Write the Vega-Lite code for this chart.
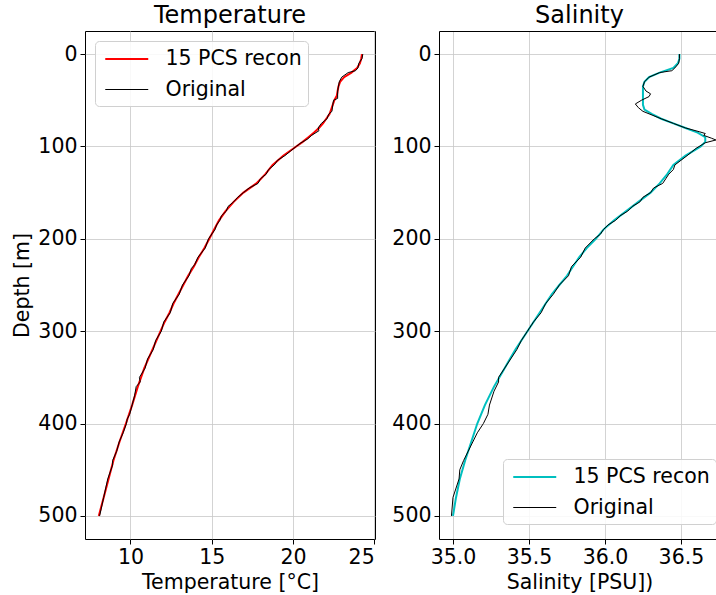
{
  "$schema": "https://vega.github.io/schema/vega-lite/v6.json",
  "padding": {"left": 12, "top": 3, "right": 0, "bottom": 0},
  "background": "white",
  "spacing": 15,
  "resolve": {
    "scale": {"color": "independent", "strokeWidth": "independent"},
    "legend": {"color": "independent", "strokeWidth": "independent"}
  },
  "config": {
    "font": "DejaVu Sans",
    "view": {"stroke": "black", "strokeWidth": 1},
    "axis": {
      "labelFontSize": 20.5, "titleFontSize": 20.5, "titleFontWeight": "normal",
      "labelColor": "black", "titleColor": "black", "tickColor": "black",
      "tickSize": 5, "labelPadding": 3, "gridColor": "#c8c8c8", "gridWidth": 0.8,
      "domainColor": "black", "titlePadding": 5
    },
    "title": {"fontSize": 24, "fontWeight": "normal", "color": "black", "offset": 3},
    "legend": {
      "symbolType": "M-2,0H2", "symbolSize": 462, "symbolOffset": 13.75, "labelFontSize": 20.5, "labelColor": "black",
      "padding": 6, "rowPadding": 8, "strokeColor": "#d0d0d0", "fillColor": "rgba(255,255,255,0.85)",
      "cornerRadius": 4, "labelOffset": 26.75, "offset": 10
    }
  },
  "datasets": {
    "temp": [
      {"series": "15 PCS recon", "depth": 0, "value": 24.25},
      {"series": "15 PCS recon", "depth": 5, "value": 24.2},
      {"series": "15 PCS recon", "depth": 10, "value": 24.12},
      {"series": "15 PCS recon", "depth": 15, "value": 23.95},
      {"series": "15 PCS recon", "depth": 20, "value": 23.6},
      {"series": "15 PCS recon", "depth": 25, "value": 23.15},
      {"series": "15 PCS recon", "depth": 30, "value": 22.9},
      {"series": "15 PCS recon", "depth": 35, "value": 22.8},
      {"series": "15 PCS recon", "depth": 40, "value": 22.75},
      {"series": "15 PCS recon", "depth": 45, "value": 22.7},
      {"series": "15 PCS recon", "depth": 50, "value": 22.55},
      {"series": "15 PCS recon", "depth": 55, "value": 22.45},
      {"series": "15 PCS recon", "depth": 60, "value": 22.35},
      {"series": "15 PCS recon", "depth": 65, "value": 22.25},
      {"series": "15 PCS recon", "depth": 70, "value": 22.05},
      {"series": "15 PCS recon", "depth": 75, "value": 21.85},
      {"series": "15 PCS recon", "depth": 80, "value": 21.6},
      {"series": "15 PCS recon", "depth": 85, "value": 21.3},
      {"series": "15 PCS recon", "depth": 90, "value": 20.95},
      {"series": "15 PCS recon", "depth": 95, "value": 20.6},
      {"series": "15 PCS recon", "depth": 100, "value": 20.2},
      {"series": "15 PCS recon", "depth": 110, "value": 19.4},
      {"series": "15 PCS recon", "depth": 120, "value": 18.75},
      {"series": "15 PCS recon", "depth": 130, "value": 18.3},
      {"series": "15 PCS recon", "depth": 140, "value": 17.75},
      {"series": "15 PCS recon", "depth": 150, "value": 16.95},
      {"series": "15 PCS recon", "depth": 160, "value": 16.35},
      {"series": "15 PCS recon", "depth": 170, "value": 15.85},
      {"series": "15 PCS recon", "depth": 180, "value": 15.45},
      {"series": "15 PCS recon", "depth": 190, "value": 15.15},
      {"series": "15 PCS recon", "depth": 200, "value": 14.85},
      {"series": "15 PCS recon", "depth": 210, "value": 14.55},
      {"series": "15 PCS recon", "depth": 220, "value": 14.2},
      {"series": "15 PCS recon", "depth": 230, "value": 13.9},
      {"series": "15 PCS recon", "depth": 240, "value": 13.55},
      {"series": "15 PCS recon", "depth": 250, "value": 13.25},
      {"series": "15 PCS recon", "depth": 260, "value": 12.95},
      {"series": "15 PCS recon", "depth": 270, "value": 12.65},
      {"series": "15 PCS recon", "depth": 280, "value": 12.4},
      {"series": "15 PCS recon", "depth": 290, "value": 12.1},
      {"series": "15 PCS recon", "depth": 300, "value": 11.85},
      {"series": "15 PCS recon", "depth": 320, "value": 11.35},
      {"series": "15 PCS recon", "depth": 340, "value": 10.85},
      {"series": "15 PCS recon", "depth": 360, "value": 10.45},
      {"series": "15 PCS recon", "depth": 380, "value": 10.1},
      {"series": "15 PCS recon", "depth": 400, "value": 9.72},
      {"series": "15 PCS recon", "depth": 420, "value": 9.32},
      {"series": "15 PCS recon", "depth": 440, "value": 8.95},
      {"series": "15 PCS recon", "depth": 460, "value": 8.65},
      {"series": "15 PCS recon", "depth": 480, "value": 8.35},
      {"series": "15 PCS recon", "depth": 500, "value": 8.05},
      {"series": "Original", "depth": 0, "value": 24.3},
      {"series": "Original", "depth": 5, "value": 24.25},
      {"series": "Original", "depth": 10, "value": 24.05},
      {"series": "Original", "depth": 15, "value": 24.0},
      {"series": "Original", "depth": 18, "value": 23.85},
      {"series": "Original", "depth": 20, "value": 23.4},
      {"series": "Original", "depth": 25, "value": 23.0},
      {"series": "Original", "depth": 30, "value": 22.85},
      {"series": "Original", "depth": 40, "value": 22.75},
      {"series": "Original", "depth": 48, "value": 22.75},
      {"series": "Original", "depth": 50, "value": 22.5},
      {"series": "Original", "depth": 55, "value": 22.45},
      {"series": "Original", "depth": 62, "value": 22.4},
      {"series": "Original", "depth": 65, "value": 22.2},
      {"series": "Original", "depth": 70, "value": 22.1},
      {"series": "Original", "depth": 75, "value": 21.75},
      {"series": "Original", "depth": 80, "value": 21.55},
      {"series": "Original", "depth": 83, "value": 21.6},
      {"series": "Original", "depth": 88, "value": 21.15},
      {"series": "Original", "depth": 92, "value": 20.9},
      {"series": "Original", "depth": 96, "value": 20.5},
      {"series": "Original", "depth": 100, "value": 20.2},
      {"series": "Original", "depth": 105, "value": 19.85},
      {"series": "Original", "depth": 110, "value": 19.5},
      {"series": "Original", "depth": 115, "value": 19.05},
      {"series": "Original", "depth": 120, "value": 18.85},
      {"series": "Original", "depth": 125, "value": 18.5},
      {"series": "Original", "depth": 130, "value": 18.35},
      {"series": "Original", "depth": 135, "value": 18.0},
      {"series": "Original", "depth": 140, "value": 17.85},
      {"series": "Original", "depth": 145, "value": 17.3},
      {"series": "Original", "depth": 150, "value": 16.95},
      {"series": "Original", "depth": 155, "value": 16.6},
      {"series": "Original", "depth": 160, "value": 16.35},
      {"series": "Original", "depth": 165, "value": 16.0},
      {"series": "Original", "depth": 170, "value": 15.9},
      {"series": "Original", "depth": 175, "value": 15.6},
      {"series": "Original", "depth": 180, "value": 15.5},
      {"series": "Original", "depth": 185, "value": 15.3},
      {"series": "Original", "depth": 190, "value": 15.2},
      {"series": "Original", "depth": 200, "value": 14.8},
      {"series": "Original", "depth": 210, "value": 14.6},
      {"series": "Original", "depth": 220, "value": 14.15},
      {"series": "Original", "depth": 228, "value": 13.95},
      {"series": "Original", "depth": 232, "value": 13.75},
      {"series": "Original", "depth": 240, "value": 13.6},
      {"series": "Original", "depth": 250, "value": 13.2},
      {"series": "Original", "depth": 260, "value": 13.0},
      {"series": "Original", "depth": 270, "value": 12.6},
      {"series": "Original", "depth": 280, "value": 12.45},
      {"series": "Original", "depth": 290, "value": 12.05},
      {"series": "Original", "depth": 300, "value": 11.9},
      {"series": "Original", "depth": 310, "value": 11.55},
      {"series": "Original", "depth": 320, "value": 11.4},
      {"series": "Original", "depth": 330, "value": 11.05},
      {"series": "Original", "depth": 340, "value": 10.9},
      {"series": "Original", "depth": 350, "value": 10.55},
      {"series": "Original", "depth": 355, "value": 10.6},
      {"series": "Original", "depth": 360, "value": 10.35},
      {"series": "Original", "depth": 370, "value": 10.25},
      {"series": "Original", "depth": 380, "value": 10.1},
      {"series": "Original", "depth": 390, "value": 9.95},
      {"series": "Original", "depth": 395, "value": 9.8},
      {"series": "Original", "depth": 400, "value": 9.75},
      {"series": "Original", "depth": 410, "value": 9.55},
      {"series": "Original", "depth": 420, "value": 9.3},
      {"series": "Original", "depth": 430, "value": 9.15},
      {"series": "Original", "depth": 440, "value": 8.9},
      {"series": "Original", "depth": 445, "value": 8.9},
      {"series": "Original", "depth": 460, "value": 8.6},
      {"series": "Original", "depth": 480, "value": 8.35},
      {"series": "Original", "depth": 500, "value": 8.1}
    ],
    "sal": [
      {"series": "15 PCS recon", "depth": 0, "value": 36.49},
      {"series": "15 PCS recon", "depth": 5, "value": 36.49},
      {"series": "15 PCS recon", "depth": 10, "value": 36.48},
      {"series": "15 PCS recon", "depth": 15, "value": 36.45},
      {"series": "15 PCS recon", "depth": 20, "value": 36.36},
      {"series": "15 PCS recon", "depth": 25, "value": 36.29},
      {"series": "15 PCS recon", "depth": 30, "value": 36.26},
      {"series": "15 PCS recon", "depth": 35, "value": 36.25},
      {"series": "15 PCS recon", "depth": 40, "value": 36.25},
      {"series": "15 PCS recon", "depth": 45, "value": 36.25},
      {"series": "15 PCS recon", "depth": 50, "value": 36.25},
      {"series": "15 PCS recon", "depth": 55, "value": 36.25},
      {"series": "15 PCS recon", "depth": 60, "value": 36.26},
      {"series": "15 PCS recon", "depth": 65, "value": 36.31},
      {"series": "15 PCS recon", "depth": 70, "value": 36.37},
      {"series": "15 PCS recon", "depth": 75, "value": 36.45},
      {"series": "15 PCS recon", "depth": 80, "value": 36.53},
      {"series": "15 PCS recon", "depth": 85, "value": 36.61},
      {"series": "15 PCS recon", "depth": 90, "value": 36.66},
      {"series": "15 PCS recon", "depth": 95, "value": 36.66},
      {"series": "15 PCS recon", "depth": 100, "value": 36.63},
      {"series": "15 PCS recon", "depth": 105, "value": 36.58},
      {"series": "15 PCS recon", "depth": 110, "value": 36.53},
      {"series": "15 PCS recon", "depth": 120, "value": 36.45},
      {"series": "15 PCS recon", "depth": 130, "value": 36.41},
      {"series": "15 PCS recon", "depth": 140, "value": 36.36},
      {"series": "15 PCS recon", "depth": 150, "value": 36.3},
      {"series": "15 PCS recon", "depth": 160, "value": 36.22},
      {"series": "15 PCS recon", "depth": 170, "value": 36.14},
      {"series": "15 PCS recon", "depth": 180, "value": 36.06},
      {"series": "15 PCS recon", "depth": 190, "value": 35.99},
      {"series": "15 PCS recon", "depth": 200, "value": 35.94},
      {"series": "15 PCS recon", "depth": 210, "value": 35.88},
      {"series": "15 PCS recon", "depth": 220, "value": 35.83},
      {"series": "15 PCS recon", "depth": 230, "value": 35.79},
      {"series": "15 PCS recon", "depth": 240, "value": 35.75},
      {"series": "15 PCS recon", "depth": 250, "value": 35.7},
      {"series": "15 PCS recon", "depth": 260, "value": 35.65},
      {"series": "15 PCS recon", "depth": 270, "value": 35.61},
      {"series": "15 PCS recon", "depth": 280, "value": 35.57},
      {"series": "15 PCS recon", "depth": 290, "value": 35.53},
      {"series": "15 PCS recon", "depth": 300, "value": 35.49},
      {"series": "15 PCS recon", "depth": 320, "value": 35.41},
      {"series": "15 PCS recon", "depth": 340, "value": 35.34},
      {"series": "15 PCS recon", "depth": 360, "value": 35.27},
      {"series": "15 PCS recon", "depth": 380, "value": 35.21},
      {"series": "15 PCS recon", "depth": 400, "value": 35.16},
      {"series": "15 PCS recon", "depth": 420, "value": 35.12},
      {"series": "15 PCS recon", "depth": 440, "value": 35.08},
      {"series": "15 PCS recon", "depth": 460, "value": 35.045},
      {"series": "15 PCS recon", "depth": 480, "value": 35.02},
      {"series": "15 PCS recon", "depth": 500, "value": 35.0},
      {"series": "Original", "depth": 0, "value": 36.49},
      {"series": "Original", "depth": 5, "value": 36.49},
      {"series": "Original", "depth": 10, "value": 36.485},
      {"series": "Original", "depth": 15, "value": 36.46},
      {"series": "Original", "depth": 18, "value": 36.44},
      {"series": "Original", "depth": 20, "value": 36.36},
      {"series": "Original", "depth": 25, "value": 36.29},
      {"series": "Original", "depth": 30, "value": 36.26},
      {"series": "Original", "depth": 35, "value": 36.25},
      {"series": "Original", "depth": 40, "value": 36.27},
      {"series": "Original", "depth": 43, "value": 36.3},
      {"series": "Original", "depth": 46, "value": 36.29},
      {"series": "Original", "depth": 50, "value": 36.24},
      {"series": "Original", "depth": 54, "value": 36.2},
      {"series": "Original", "depth": 58, "value": 36.22},
      {"series": "Original", "depth": 62, "value": 36.25},
      {"series": "Original", "depth": 66, "value": 36.31},
      {"series": "Original", "depth": 70, "value": 36.37},
      {"series": "Original", "depth": 75, "value": 36.45},
      {"series": "Original", "depth": 80, "value": 36.53},
      {"series": "Original", "depth": 84, "value": 36.62},
      {"series": "Original", "depth": 86, "value": 36.66},
      {"series": "Original", "depth": 88, "value": 36.65},
      {"series": "Original", "depth": 91, "value": 36.7},
      {"series": "Original", "depth": 93, "value": 36.73},
      {"series": "Original", "depth": 96, "value": 36.66},
      {"series": "Original", "depth": 98, "value": 36.64},
      {"series": "Original", "depth": 102, "value": 36.6},
      {"series": "Original", "depth": 106, "value": 36.57},
      {"series": "Original", "depth": 110, "value": 36.54},
      {"series": "Original", "depth": 115, "value": 36.5},
      {"series": "Original", "depth": 120, "value": 36.46},
      {"series": "Original", "depth": 125, "value": 36.45},
      {"series": "Original", "depth": 130, "value": 36.42},
      {"series": "Original", "depth": 135, "value": 36.4},
      {"series": "Original", "depth": 140, "value": 36.38},
      {"series": "Original", "depth": 145, "value": 36.32},
      {"series": "Original", "depth": 150, "value": 36.3},
      {"series": "Original", "depth": 155, "value": 36.25},
      {"series": "Original", "depth": 160, "value": 36.23},
      {"series": "Original", "depth": 165, "value": 36.18},
      {"series": "Original", "depth": 170, "value": 36.15},
      {"series": "Original", "depth": 175, "value": 36.1},
      {"series": "Original", "depth": 180, "value": 36.07},
      {"series": "Original", "depth": 185, "value": 36.02},
      {"series": "Original", "depth": 190, "value": 35.99},
      {"series": "Original", "depth": 195, "value": 35.97},
      {"series": "Original", "depth": 200, "value": 35.93},
      {"series": "Original", "depth": 210, "value": 35.87},
      {"series": "Original", "depth": 220, "value": 35.84},
      {"series": "Original", "depth": 230, "value": 35.78},
      {"series": "Original", "depth": 240, "value": 35.76},
      {"series": "Original", "depth": 250, "value": 35.7},
      {"series": "Original", "depth": 260, "value": 35.66},
      {"series": "Original", "depth": 270, "value": 35.61},
      {"series": "Original", "depth": 280, "value": 35.58},
      {"series": "Original", "depth": 290, "value": 35.53},
      {"series": "Original", "depth": 300, "value": 35.49},
      {"series": "Original", "depth": 310, "value": 35.45},
      {"series": "Original", "depth": 320, "value": 35.42},
      {"series": "Original", "depth": 330, "value": 35.38},
      {"series": "Original", "depth": 340, "value": 35.34},
      {"series": "Original", "depth": 350, "value": 35.3},
      {"series": "Original", "depth": 355, "value": 35.3},
      {"series": "Original", "depth": 365, "value": 35.27},
      {"series": "Original", "depth": 380, "value": 35.24},
      {"series": "Original", "depth": 390, "value": 35.23},
      {"series": "Original", "depth": 400, "value": 35.2},
      {"series": "Original", "depth": 410, "value": 35.16},
      {"series": "Original", "depth": 420, "value": 35.13},
      {"series": "Original", "depth": 430, "value": 35.1},
      {"series": "Original", "depth": 440, "value": 35.07},
      {"series": "Original", "depth": 450, "value": 35.045},
      {"series": "Original", "depth": 460, "value": 35.04},
      {"series": "Original", "depth": 480, "value": 35.0},
      {"series": "Original", "depth": 500, "value": 34.99}
    ]
  },
  "hconcat": [
    {
      "width": 290, "height": 508,
      "title": "Temperature",
      "data": {"name": "temp"},
      "mark": {"type": "line", "clip": true},
      "encoding": {
        "x": {"field": "value", "type": "quantitative",
              "scale": {"domain": [7.2, 25.05], "nice": false, "zero": false},
              "axis": {"values": [10, 15, 20, 25], "title": "Temperature [°C]", "domain": false}},
        "y": {"field": "depth", "type": "quantitative",
              "scale": {"domain": [-25, 525], "reverse": true, "nice": false, "zero": false},
              "axis": {"values": [0, 100, 200, 300, 400, 500], "title": "Depth [m]", "domain": false, "titlePadding": 5}},
        "order": {"field": "depth", "type": "quantitative"},
        "color": {"field": "series", "type": "nominal",
                  "scale": {"domain": ["15 PCS recon", "Original"], "range": ["#ff0000", "#000000"]},
                  "legend": {"title": null, "orient": "top-left"}},
        "strokeWidth": {"field": "series", "type": "nominal",
                  "scale": {"domain": ["15 PCS recon", "Original"], "range": [2, 1]},
                  "legend": {"title": null, "orient": "top-left"}}
      }
    },
    {
      "width": 281, "height": 508,
      "title": "Salinity",
      "data": {"name": "sal"},
      "view": {"stroke": null},
      "resolve": {"axis": {"x": "independent"}},
      "layer": [
        {
          "mark": {"type": "line", "clip": true},
          "encoding": {
            "x": {"field": "value", "type": "quantitative",
                  "scale": {"domain": [34.908, 36.757], "nice": false, "zero": false},
                  "axis": {"values": [35.0, 35.5, 36.0, 36.5], "format": ".1f", "title": "Salinity [PSU])", "domain": true}},
            "y": {"field": "depth", "type": "quantitative",
                  "scale": {"domain": [-25, 525], "reverse": true, "nice": false, "zero": false},
                  "axis": {"values": [0, 100, 200, 300, 400, 500], "title": null, "domain": true}},
            "order": {"field": "depth", "type": "quantitative"},
            "color": {"field": "series", "type": "nominal",
                      "scale": {"domain": ["15 PCS recon", "Original"], "range": ["#00bfbf", "#000000"]},
                      "legend": {"title": null, "orient": "none", "legendX": 64, "legendY": 428}},
            "strokeWidth": {"field": "series", "type": "nominal",
                      "scale": {"domain": ["15 PCS recon", "Original"], "range": [2, 1]},
                      "legend": {"title": null, "orient": "none", "legendX": 64, "legendY": 428}}
          }
        },
        {
          "mark": {"type": "line", "opacity": 0},
          "encoding": {
            "x": {"field": "value", "type": "quantitative",
                  "axis": {"orient": "top", "labels": false, "ticks": false, "grid": false, "title": null, "domain": true}},
            "y": {"field": "depth", "type": "quantitative"},
            "order": {"field": "depth", "type": "quantitative"},
            "detail": {"field": "series"}
          }
        }
      ]
    }
  ]
}
